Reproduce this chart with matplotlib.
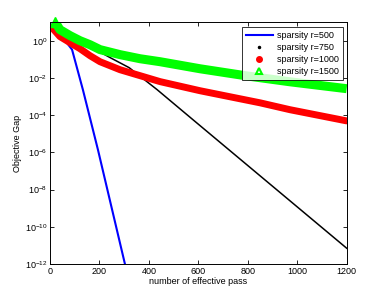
import numpy as np
import matplotlib
matplotlib.use('Agg')
import matplotlib.pyplot as plt
from matplotlib.lines import Line2D

plt.rcParams['font.family'] = ['Liberation Sans', 'DejaVu Sans']

# values: effective passes and log10 of the objective gap
x_500 = [10, 50, 89, 133, 194, 303, 312]
y_500 = [0.9, 0.2, -0.48, -2.64, -5.87, -12.0, -12.5]

x_750 = [20, 80, 160, 243, 320, 433, 574, 1200]
y_750 = [1.0, 0.4, -0.3, -0.91, -1.45, -2.63, -4.2, -11.15]

x_1000 = [8, 40, 81, 121, 162, 202, 283, 364, 445, 607, 850, 971, 1200]
y_1000 = [0.70, 0.22, -0.11, -0.43, -0.81, -1.13, -1.56, -1.88, -2.2,
          -2.69, -3.34, -3.71, -4.31]

x_1500 = [20, 40, 81, 121, 162, 202, 283, 364, 445, 607, 789, 971, 1200]
y_1500 = [1.02, 0.59, 0.27, 0.0, -0.22, -0.48, -0.75, -0.97, -1.13,
          -1.51, -1.88, -2.21, -2.58]

labels = ['sparsity r=500', 'sparsity r=750', 'sparsity r=1000', 'sparsity r=1500']

fig = plt.figure(figsize=(3.82, 2.98), dpi=100)
ax = fig.add_axes([0.131, 0.114, 0.7765, 0.812])

ax.semilogy(x_500, 10.0**np.array(y_500), color='#0000ff', lw=1.5)
ax.semilogy(x_750, 10.0**np.array(y_750), color='k', lw=1.1)
ax.semilogy(x_1000, 10.0**np.array(y_1000), color='#ff0000', lw=5,
            solid_capstyle='round', solid_joinstyle='round')
ax.semilogy(x_1500, 10.0**np.array(y_1500), color='#00ff00', lw=6.5,
            solid_capstyle='butt', solid_joinstyle='round')
# the triangle markers poke out at the start of the green band
ax.semilogy(x_1500[:1], 10.0**np.array(y_1500[:1]), ls='none', marker='^',
            ms=7, color='#00ff00', clip_on=False)

ax.set_xlim(0, 1200)
ax.set_ylim(1e-12, 1e1)
ax.set_xticks(np.arange(0, 1201, 200))
ax.set_yticks([10.0**k for k in range(-12, 1, 2)])
ax.yaxis.set_minor_locator(matplotlib.ticker.NullLocator())
ax.tick_params(direction='in', top=True, right=True, length=3, width=0.6,
               labelsize=6.5, pad=2)
for s in ax.spines.values():
    s.set_linewidth(0.7)

ax.set_xlabel('number of effective pass', fontsize=6.5, labelpad=1)
ax.set_ylabel('Objective Gap', fontsize=6.5, labelpad=2)

handles = [
    Line2D([], [], color='#0000ff', lw=1.5),
    Line2D([], [], color='k', ls='none', marker='.', ms=3),
    Line2D([], [], color='#ff0000', ls='none', marker='o', ms=4),
    Line2D([], [], color='#00ff00', ls='none', marker='^', ms=5,
           mfc='white', mew=1.5),
]
leg = ax.legend(handles, labels, loc='upper right',
                bbox_to_anchor=(0.9875, 0.979), borderaxespad=0,
                fontsize=6.5, fancybox=False, edgecolor='k',
                handlelength=3, labelspacing=0.35, borderpad=0.4,
                handletextpad=0.5)
leg.get_frame().set_linewidth(0.7)

fig.savefig('out.png', dpi=100)
